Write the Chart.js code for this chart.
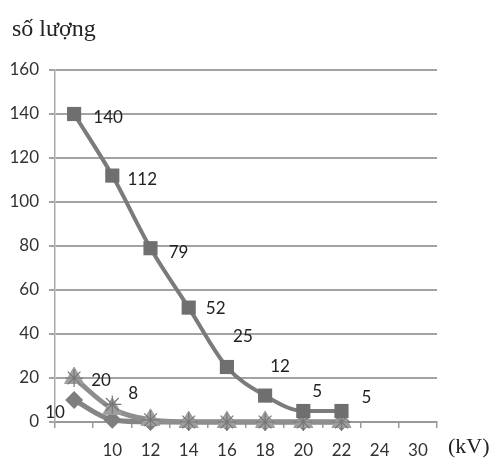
<!DOCTYPE html>
<html>
<head>
  <meta charset="UTF-8">
  <title>số lượng</title>
  <script src="https://cdn.jsdelivr.net/npm/chart.js"></script>
  <style>
    html, body {
      margin: 0;
      padding: 0;
      background: #fff;
    }
    #wrap {
      width: 494px;
      height: 461px;
    }
  </style>
</head>
<body>
  <div id="wrap"><canvas id="grafik"></canvas></div>

  <script>
    const categories = ['', '10', '12', '14', '16', '18', '20', '22', '24', '30'];
    const squareValues = [140, 112, 79, 52, 25, 12, 5, 5, null, null];
    const starValues = [20, 8, 1, 0, 0, 0, 0, 0, null, null];
    const triangleValues = [20, 6, 1, 0, 0, 0, 0, 0, null, null];
    const diamondValues = [10, 1, 0, 0, 0, 0, 0, 0, null, null];

    // which points carry a value label (count from the start of each series)
    const labelCount = { 0: 8, 1: 2, 3: 1 };
    // label offsets from the point, in pixels
    const labelOffsets = {
      0: [[34, 4], [30, 4], [28, 4], [27, 1], [16, -30], [15, -29], [14, -19], [25, -13]],
      1: [[27, 3], [21, -11]],
      3: [[-19, 13]]
    };

    const textFont = 'Lato, "Open Sans", sans-serif';
    const serifFont = '"Liberation Serif", "DejaVu Serif", serif';

    const extraText = {
      id: 'extraText',
      afterDatasetsDraw(chart) {
        const c = chart.ctx;
        c.save();
        c.fillStyle = '#222';
        c.font = '17px ' + textFont;
        c.textAlign = 'center';
        c.textBaseline = 'middle';
        Object.keys(labelCount).forEach(di => {
          const meta = chart.getDatasetMeta(+di);
          const vals = chart.data.datasets[di].data;
          for (let i = 0; i < labelCount[di]; i++) {
            const p = meta.data[i];
            const off = labelOffsets[di][i];
            c.fillText(String(vals[i]), p.x + off[0], p.y + off[1]);
          }
        });
        c.textAlign = 'left';
        c.font = '24px ' + serifFont;
        c.fillText('số lượng', 12, 30);
        c.font = '22px ' + serifFont;
        c.fillText('(kV)', 448, 447);
        c.restore();
      }
    };

    const ctx = document.getElementById('grafik').getContext('2d');
    const chart = new Chart(ctx, {
      type: 'line',
      data: {
        labels: categories,
        datasets: [
          {
            label: 'vuông',
            data: squareValues,
            clip: false,
            borderColor: '#7b7b7b',
            backgroundColor: '#6f6f6f',
            borderWidth: 4,
            pointStyle: 'rect',
            pointRadius: 10,
            pointBorderWidth: 0,
            tension: 0.3,
            cubicInterpolationMode: 'monotone'
          },
          {
            label: 'sao',
            data: starValues,
            clip: false,
            showLine: false,
            borderColor: '#777',
            backgroundColor: '#777',
            pointStyle: 'star',
            pointRadius: 9,
            pointBorderWidth: 1.2
          },
          {
            label: 'tam giác',
            data: triangleValues,
            clip: false,
            borderColor: '#8e8e8e',
            pointBackgroundColor: '#9e9e9e',
            pointBorderColor: '#9e9e9e',
            borderWidth: 5,
            pointStyle: 'triangle',
            pointRadius: 11,
            pointBorderWidth: 1,
            tension: 0.3,
            cubicInterpolationMode: 'monotone'
          },
          {
            label: 'thoi',
            data: diamondValues,
            clip: false,
            borderColor: '#858585',
            backgroundColor: '#7e7e7e',
            borderWidth: 5,
            pointStyle: 'rectRot',
            pointRadius: 9,
            pointBorderWidth: 0,
            tension: 0.3,
            cubicInterpolationMode: 'monotone'
          }
        ]
      },
      options: {
        responsive: true,
        maintainAspectRatio: false,
        animation: false,
        layout: {
          padding: { left: 0, right: 57, top: 70, bottom: 0 }
        },
        scales: {
          x: {
            offset: true,
            grid: {
              offset: true,
              drawOnChartArea: false,
              color: '#999',
              lineWidth: 1.5,
              tickLength: 6
            },
            border: { color: '#999', width: 2 },
            ticks: {
              color: '#333',
              font: { family: textFont, size: 17 },
              padding: 12,
              maxRotation: 0,
              autoSkip: false
            },
            afterFit(scale) { scale.height = 39; }
          },
          y: {
            min: 0,
            max: 160,
            grid: {
              color: '#a3a3a3',
              lineWidth: 2,
              tickLength: 6
            },
            border: { color: '#aaa', width: 1.5 },
            ticks: {
              stepSize: 20,
              color: '#333',
              font: { family: textFont, size: 17 },
              padding: 10
            },
            afterFit(scale) { scale.width = 55; }
          }
        },
        plugins: {
          legend: { display: false },
          tooltip: { enabled: false }
        }
      },
      plugins: [extraText]
    });
  </script>
</body>
</html>
